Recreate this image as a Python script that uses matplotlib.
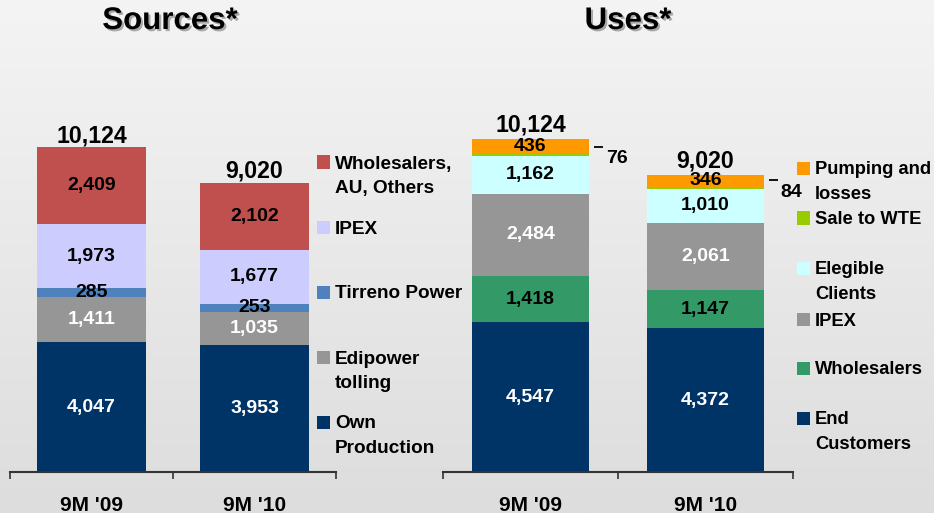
import matplotlib
matplotlib.use('Agg')
import matplotlib.pyplot as plt
import numpy as np
from matplotlib.patches import Rectangle
from matplotlib.colors import LinearSegmentedColormap
import matplotlib.patheffects as pe

plt.rcParams['font.family'] = ['Liberation Sans', 'DejaVu Sans']
plt.rcParams['font.weight'] = 'bold'

# ---------------- data ----------------
periods = ["9M '09", "9M '10"]

src_labels = ['Own\nProduction', 'Edipower\ntolling', 'Tirreno Power', 'IPEX', 'Wholesalers,\nAU, Others']
src_own = [4047, 3953]
src_edipower = [1411, 1035]
src_tirreno = [285, 253]
src_ipex = [1973, 1677]
src_wholesalers = [2409, 2102]
src_totals = [10124, 9020]
src_colors = ['#003366', '#969696', '#4F81BD', '#CCCCFF', '#C0504D']
src_text_colors = ['white', 'white', 'black', 'black', 'black']

use_labels = ['End\nCustomers', 'Wholesalers', 'IPEX', 'Elegible\nClients', 'Sale to WTE', 'Pumping and\nlosses']
use_end = [4547, 4372]
use_wholesalers = [1418, 1147]
use_ipex = [2484, 2061]
use_elegible = [1162, 1010]
use_wte = [76, 84]
use_pumping = [436, 346]
use_totals = [10124, 9020]
use_colors = ['#003366', '#339966', '#969696', '#CCFFFF', '#99CC00', '#FF9900']
use_text_colors = ['white', 'black', 'white', 'black', 'black', 'black']

# ---------------- figure ----------------
W, H = 934, 513
fig = plt.figure(figsize=(W / 100, H / 100), dpi=100)

bg = fig.add_axes([0, 0, 1, 1], zorder=-10)
grad = np.linspace(0, 1, 256).reshape(-1, 1)
bg.imshow(grad, aspect='auto', origin='upper', extent=[0, 1, 0, 1],
          cmap=LinearSegmentedColormap.from_list('g', ['#f4f4f4', '#dddddd']))
bg.axis('off')

SEG_FS = 14
LEG_FS = 13.7
TOT_FS = 16.7
TICK_FS = 15
TITLE_FS = 22.5


def px_axes(left, base_y, width, height):
    return fig.add_axes([left / W, (H - base_y) / H, width / W, height / H])


def style_axes(ax):
    ax.set_facecolor('none')
    ax.set_xlim(-0.5, 1.5)
    ax.set_ylim(0, 11000)
    ax.set_xticks([0, 1])
    ax.set_xticklabels(periods)
    ax.set_xticks([-0.5, 0.5, 1.5], minor=True)
    ax.tick_params(axis='x', which='major', length=0, pad=17, labelsize=TICK_FS)
    ax.tick_params(axis='x', which='minor', length=5, width=1.2, direction='out', color='#333333')
    for lab in ax.get_xticklabels():
        lab.set_fontweight('bold')
    ax.set_yticks([])
    for s in ['top', 'left', 'right']:
        ax.spines[s].set_visible(False)
    ax.spines['bottom'].set_linewidth(1.5)
    ax.spines['bottom'].set_color('#333333')


def draw_stack(ax, series, colors, text_colors, skip=()):
    x = np.arange(len(periods))
    bottom = np.zeros(len(periods))
    bottoms = []
    for i, (vals, c, tc) in enumerate(zip(series, colors, text_colors)):
        vals = np.array(vals, dtype=float)
        ax.bar(x, vals, 0.67, bottom=bottom, color=c, zorder=2, linewidth=0)
        bottoms.append(bottom.copy())
        if i not in skip:
            for xi, v, b in zip(x, vals, bottom):
                ax.text(xi, b + v / 2, f'{int(v):,}', ha='center', va='center',
                        color=tc, fontsize=SEG_FS, fontweight='bold', zorder=4)
        bottom = bottom + vals
    return bottoms, bottom


def draw_totals(ax, totals, tops, off):
    for xi, (t, top) in enumerate(zip(totals, tops)):
        ax.annotate(f'{t:,}', (xi, top), xytext=(0, off), textcoords='offset points',
                    ha='center', va='bottom', fontsize=TOT_FS, fontweight='bold', zorder=4)


def draw_legend(xsq, xtxt, labels, colors, ys, fs):
    for lab, c, y in zip(labels, colors, ys):
        fig.add_artist(Rectangle((xsq / W, 1 - (y + 6.5) / H), 13 / W, 13 / H,
                                 transform=fig.transFigure, color=c, linewidth=0))
        for j, line in enumerate(lab.split('\n')):
            fig.text(xtxt / W, 1 - (y + 6.5 + j * 24.5) / H, line, ha='left', va='baseline',
                     fontsize=fs, fontweight='bold')


# Sources
ax1 = px_axes(10, 472, 326, 353)
style_axes(ax1)
src_series = [src_own, src_edipower, src_tirreno, src_ipex, src_wholesalers]
_, top1 = draw_stack(ax1, src_series, src_colors, src_text_colors)
draw_totals(ax1, src_totals, top1, 0)

# Uses
ax2 = px_axes(443, 472, 350, 362)
style_axes(ax2)
use_series = [use_end, use_wholesalers, use_ipex, use_elegible, use_wte, use_pumping]
bots, top2 = draw_stack(ax2, use_series, use_colors, use_text_colors, skip=(4,))
draw_totals(ax2, use_totals, top2, 2)
for xi, (v, b) in enumerate(zip(use_wte, bots[4])):
    ax2.plot([xi + 0.36, xi + 0.415], [b + v + 200] * 2, color='black', lw=1.3,
             solid_capstyle='butt', clip_on=False, zorder=4)
    ax2.annotate(f'{v}', (xi + 0.43, b + v / 2), xytext=(0, -3), textcoords='offset points',
                 ha='left', va='center', fontsize=SEG_FS, fontweight='bold', zorder=4)

# Titles
shadow = [pe.withSimplePatchShadow(offset=(1.5, -1.5), shadow_rgbFace='#777777', alpha=0.6)]
fig.text(170 / W, 1 - 21 / H, 'Sources*', ha='center', va='center', fontsize=TITLE_FS,
         fontweight='bold', path_effects=shadow)
fig.text(628 / W, 1 - 21 / H, 'Uses*', ha='center', va='center', fontsize=TITLE_FS,
         fontweight='bold', path_effects=shadow)

# Legends
draw_legend(317, 335, src_labels, src_colors, [422, 357, 292, 227, 162], LEG_FS)
draw_legend(797, 815, use_labels, use_colors, [418, 368, 319, 268, 218, 168], 13.2)

fig.savefig('out.png', dpi=100)
